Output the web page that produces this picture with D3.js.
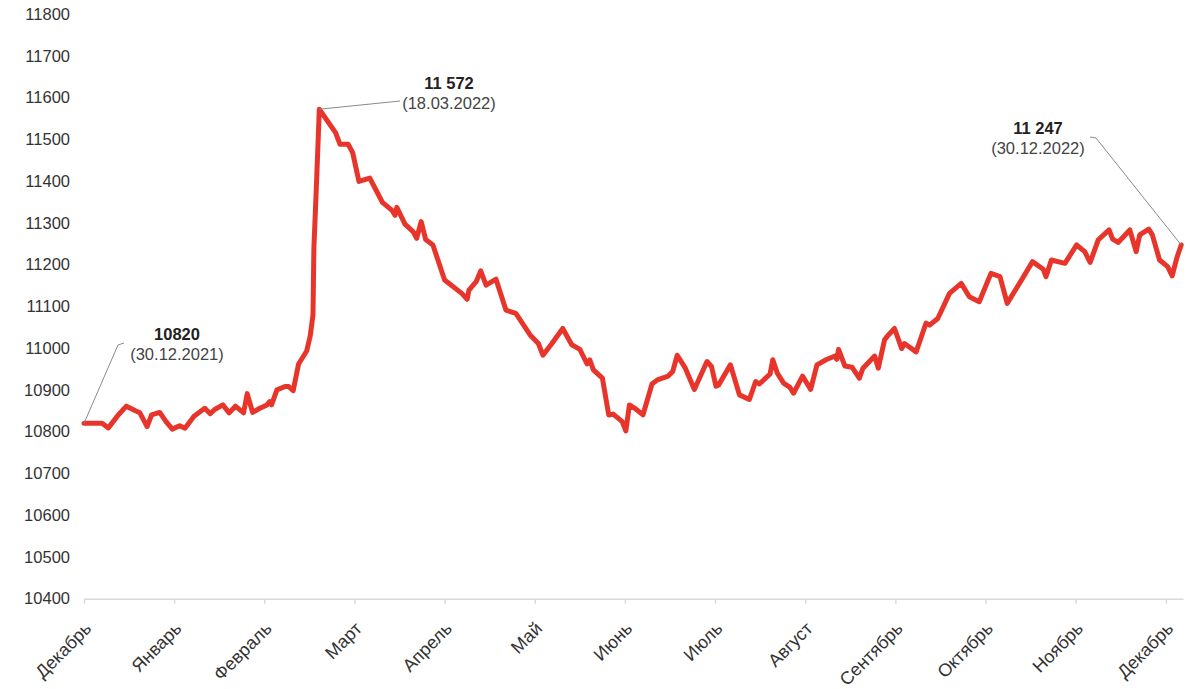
<!DOCTYPE html>
<html>
<head>
<meta charset="utf-8">
<script src="https://cdn.jsdelivr.net/npm/d3@7"></script>
<style>
  body { margin: 0; background: #fff; }
  svg { font-family: "Liberation Sans", Arial, sans-serif; }
</style>
</head>
<body>
<svg id="chart" width="1200" height="689"></svg>
<script>
// Month tick labels (positions 0..12 on the x scale)
const months = ["Декабрь", "Январь", "Февраль", "Март", "Апрель", "Май", "Июнь",
                "Июль", "Август", "Сентябрь", "Октябрь", "Ноябрь", "Декабрь"];

// Y ticks
const yTicks = [10400, 10500, 10600, 10700, 10800, 10900, 11000,
                11100, 11200, 11300, 11400, 11500, 11600, 11700, 11800];

// Series: position in months since the first tick, and value
const pos = [0, 0.20, 0.27, 0.38, 0.47, 0.57, 0.62, 0.70, 0.75, 0.84, 0.91, 0.98,
  1.06, 1.12, 1.22, 1.34, 1.40, 1.45, 1.54, 1.61, 1.68, 1.77, 1.81, 1.87, 1.95,
  2.03, 2.06, 2.08, 2.14, 2.23, 2.27, 2.32, 2.38, 2.47, 2.51, 2.54, 2.55, 2.58, 2.61,
  2.79, 2.84, 2.93, 2.98, 3.05, 3.17, 3.24, 3.31, 3.42, 3.45, 3.47, 3.56, 3.65, 3.69,
  3.74, 3.79, 3.87, 4.00, 4.19, 4.25, 4.27, 4.35, 4.40, 4.46, 4.57, 4.68, 4.79, 4.95,
  5.04, 5.09, 5.19, 5.31, 5.41, 5.50, 5.58, 5.61, 5.65, 5.75, 5.82, 5.87, 5.97,
  6.01, 6.05, 6.11, 6.20, 6.30, 6.36, 6.48, 6.53, 6.58, 6.67, 6.77, 6.91, 6.96,
  7.01, 7.04, 7.17, 7.27, 7.38, 7.45, 7.49, 7.61, 7.64, 7.69, 7.76, 7.83, 7.87, 7.97,
  8.06, 8.13, 8.23, 8.33, 8.35, 8.37, 8.44, 8.52, 8.60, 8.64, 8.77, 8.81, 8.88, 8.92, 8.99,
  9.07, 9.10, 9.23, 9.34, 9.38, 9.47, 9.60, 9.73, 9.82, 9.93,
  10.06, 10.16, 10.24, 10.41, 10.52, 10.64, 10.67, 10.73, 10.88,
  11.01, 11.10, 11.16, 11.25, 11.37, 11.41, 11.47, 11.60, 11.67, 11.71, 11.81, 11.85, 11.93,
  12.02, 12.07, 12.12, 12.17];

const values = [10820, 10820, 10809, 10840, 10861, 10850, 10845, 10812, 10840, 10846, 10824, 10806,
  10814, 10808, 10837, 10856, 10843, 10853, 10864, 10845, 10861, 10845, 10891, 10846, 10856,
  10864, 10872, 10864, 10900, 10908, 10908, 10898, 10962, 10993, 11030, 11080, 11240, 11400, 11572,
  11516, 11488, 11488, 11468, 11399, 11407, 11378, 11349, 11329, 11318, 11337, 11297, 11279, 11263,
  11303, 11260, 11247, 11163, 11131, 11117, 11139, 11159, 11185, 11151, 11165, 11091, 11083, 11031,
  11011, 10983, 11011, 11047, 11008, 10997, 10962, 10972, 10948, 10928, 10840, 10842, 10824,
  10802, 10864, 10856, 10840, 10914, 10924, 10933, 10944, 10983, 10952, 10901, 10968, 10956,
  10909, 10912, 10960, 10888, 10877, 10920, 10914, 10938, 10972, 10940, 10916, 10906, 10892, 10933,
  10901, 10960, 10972, 10981, 10973, 10997, 10957, 10954, 10928, 10952, 10981, 10952, 11020, 11031, 11047,
  10999, 11011, 10991, 11060, 11055, 11071, 11131, 11155, 11123, 11111,
  11179, 11171, 11107, 11167, 11207, 11189, 11171, 11211, 11203,
  11247, 11231, 11205, 11259, 11283, 11261, 11253, 11283, 11231, 11271, 11285, 11271, 11211,
  11195, 11173, 11215, 11247];

// Callouts: [index into series, bold value, date]
const callouts = [
  { i: 0, value: "10820", date: "(30.12.2021)" },
  { i: 38, value: "11 572", date: "(18.03.2022)" },
  { i: values.length - 1, value: "11 247", date: "(30.12.2022)" }
];

const svg = d3.select("#chart");

const x = d3.scaleLinear().domain([0, 12.19]).range([84, 1183]);
const y = d3.scaleLinear().domain([10400, 11800]).range([598.7, 14]);

// ---- Y axis (labels only) ----
const yAxis = svg.append("g")
  .attr("transform", "translate(84,0)")
  .call(d3.axisLeft(y).tickValues(yTicks).tickSize(0).tickPadding(14).tickFormat(d3.format("d")));
yAxis.select(".domain").remove();
yAxis.selectAll("text")
  .attr("font-size", 16.5)
  .attr("fill", "#333")
  .attr("font-family", "Liberation Sans, Arial, sans-serif");

// ---- X axis ----
const xAxis = svg.append("g")
  .attr("transform", "translate(0," + y(10400) + ")")
  .call(d3.axisBottom(x).tickValues(d3.range(months.length)).tickSize(5)
        .tickSizeOuter(0).tickFormat(function (d) { return months[d]; }));
xAxis.select(".domain").attr("stroke", "#d9d9d9").attr("stroke-width", 1.5);
xAxis.selectAll(".tick line").attr("stroke", "#d9d9d9").attr("stroke-width", 1.5);
xAxis.selectAll("text")
  .attr("font-size", 18)
  .attr("fill", "#333")
  .attr("font-family", "Liberation Sans, Arial, sans-serif")
  .attr("x", 0).attr("y", 0).attr("dy", 0)
  .attr("text-anchor", "end")
  .attr("transform", "translate(8,31) rotate(-45)");

// ---- Line ----
const data = pos.map(function (p, k) { return { p: p, v: values[k] }; });
const line = d3.line()
  .x(function (d) { return x(d.p); })
  .y(function (d) { return y(d.v); });

svg.append("path")
  .datum(data)
  .attr("fill", "none")
  .attr("stroke", "#e8352b")
  .attr("stroke-width", 5)
  .attr("stroke-linejoin", "round")
  .attr("stroke-linecap", "round")
  .attr("d", line);

// ---- Callouts ----
// label anchor (centre of the text block) and leader path relative to the point
const calloutLayout = [
  { tx: 177, ty: 340, leader: function (px, py) { return [[px, py], [118, 345], [124, 343]]; } },
  { tx: 449, ty: 89,  leader: function (px, py) { return [[px, py], [400, 101]]; } },
  { tx: 1038, ty: 134, leader: function (px, py) { return [[px, py], [1096, 138], [1090, 137]]; } }
];

callouts.forEach(function (c, k) {
  const px = x(pos[c.i]);
  const py = y(values[c.i]);
  const lay = calloutLayout[k];

  svg.append("path")
    .attr("d", d3.line()(lay.leader(px, py)))
    .attr("fill", "none")
    .attr("stroke", "#8a8a8a")
    .attr("stroke-width", 1);

  svg.append("text")
    .attr("x", lay.tx).attr("y", lay.ty)
    .attr("text-anchor", "middle")
    .attr("font-size", 16.5)
    .attr("font-weight", "bold")
    .attr("fill", "#222")
    .text(c.value);

  svg.append("text")
    .attr("x", lay.tx).attr("y", lay.ty + 20)
    .attr("text-anchor", "middle")
    .attr("font-size", 16.5)
    .attr("fill", "#444")
    .text(c.date);
});
</script>
</body>
</html>
